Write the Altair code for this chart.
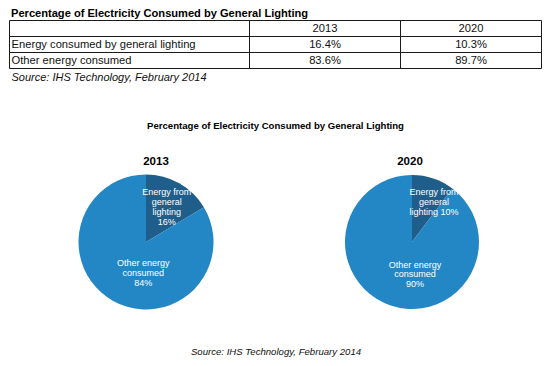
import altair as alt
import pandas as pd

# ---------------- data ----------------
title_text = "Percentage of Electricity Consumed by General Lighting"
source_text = "Source: IHS Technology, February 2014"
years = ["2013", "2020"]
row_labels = ["Energy consumed by general lighting", "Other energy consumed"]
share_2013 = [16.4, 83.6]
share_2020 = [10.3, 89.7]
slice_names = ["Energy from general lighting", "Other energy consumed"]
slice_labels_2013 = ["Energy from\ngeneral\nlighting\n16%", "Other energy\nconsumed\n84%"]
slice_labels_2020 = ["Energy from\ngeneral\nlighting 10%", "Other energy\nconsumed\n90%"]

# ---------------- layout (reference pixels, shifted by page margin) ----------------
W, H = 534, 350
OFF = -8
FONT = "Liberation Sans"
DARK = "#1f5e8a"
BLUE = "#2387c5"

tbl_x = [9.5, 249.5, 400.5, 541.5]      # vertical lines
tbl_y = [16.5, 32.5, 48.5, 64.5]        # horizontal lines
row_text_x = 11.5
pie_centers = [(146, 238), (412, 238)]
pie_radius = [67.5, 67]
year_pos = [(156, 157.5), (410, 157.5)]
# (x, first-line y, line height)
light_label_pos = [(166.7, 188.3, 10), (434, 187.7, 10)]
other_label_pos = [(143.3, 259.3, 9.6), (415, 260.7, 9.6)]


def P(v):
    return v + OFF


def xy():
    return dict(
        x=alt.X("x:Q", scale=None, axis=None),
        y=alt.Y("y:Q", scale=None, axis=None),
    )


# ---------------- table lines ----------------
rules = []
for yv in tbl_y:
    rules.append(dict(x=P(tbl_x[0]), x2=P(tbl_x[-1]), y=P(yv), y2=P(yv)))
for xv in tbl_x:
    rules.append(dict(x=P(xv), x2=P(xv), y=P(tbl_y[0]), y2=P(tbl_y[-1])))
rules_df = pd.DataFrame(rules)
rule_layer = alt.Chart(rules_df).mark_rule(color="#1a1a1a", strokeWidth=1).encode(
    x=alt.X("x:Q", scale=None, axis=None),
    x2="x2:Q",
    y=alt.Y("y:Q", scale=None, axis=None),
    y2="y2:Q",
)

# ---------------- table text ----------------
row_mid = [(tbl_y[i] + tbl_y[i + 1]) / 2 for i in range(3)]
col_mid = [(tbl_x[i] + tbl_x[i + 1]) / 2 for i in range(1, 3)]

left_cells = pd.DataFrame(
    [dict(x=P(row_text_x), y=P(row_mid[i + 1]), text=lab) for i, lab in enumerate(row_labels)]
)
center_cells = []
for j, yr in enumerate(years):
    center_cells.append(dict(x=P(col_mid[j]), y=P(row_mid[0]), text=yr))
for i in range(2):
    center_cells.append(dict(x=P(col_mid[0]), y=P(row_mid[i + 1]), text=f"{share_2013[i]:.1f}%"))
    center_cells.append(dict(x=P(col_mid[1]), y=P(row_mid[i + 1]), text=f"{share_2020[i]:.1f}%"))
center_cells = pd.DataFrame(center_cells)

left_layer = alt.Chart(left_cells).mark_text(
    align="left", baseline="middle", font=FONT, fontSize=11.2, color="#111", dy=0.5
).encode(text="text:N", **xy())
center_layer = alt.Chart(center_cells).mark_text(
    align="center", baseline="middle", font=FONT, fontSize=11.2, color="#111", dy=0.5
).encode(text="text:N", **xy())

# ---------------- titles / sources ----------------
top_title = alt.Chart(pd.DataFrame([dict(x=P(11), y=P(13), text=title_text)])).mark_text(
    align="left", baseline="alphabetic", font=FONT, fontSize=11.1, fontWeight="bold", color="#000"
).encode(text="text:N", **xy())
top_source = alt.Chart(pd.DataFrame([dict(x=P(11.5), y=P(77), text=source_text)])).mark_text(
    align="left", baseline="alphabetic", font=FONT, fontSize=11, fontStyle="italic", color="#111"
).encode(text="text:N", **xy())
pie_title = alt.Chart(pd.DataFrame([dict(x=P(275.5), y=P(125), text=title_text)])).mark_text(
    align="center", baseline="alphabetic", font=FONT, fontSize=9.6, fontWeight="bold", color="#000"
).encode(text="text:N", **xy())
bottom_source = alt.Chart(pd.DataFrame([dict(x=P(276), y=P(348), text=source_text)])).mark_text(
    align="center", baseline="middle", font=FONT, fontSize=9.6, fontStyle="italic", color="#111"
).encode(text="text:N", **xy())
year_df = pd.DataFrame([dict(x=P(p[0]), y=P(p[1]), text=yr) for p, yr in zip(year_pos, years)])
year_layer = alt.Chart(year_df).mark_text(
    align="center", baseline="middle", font=FONT, fontSize=11.5, fontWeight="bold", color="#000"
).encode(text="text:N", **xy())

# ---------------- pies ----------------
pie_layers = []
for k, (yr, shares) in enumerate(zip(years, [share_2013, share_2020])):
    df = pd.DataFrame(dict(part=slice_names, value=shares, idx=[0, 1]))
    cx, cy = pie_centers[k]
    pie_layers.append(
        alt.Chart(df).mark_arc(radius=pie_radius[k], stroke=None).encode(
            theta=alt.Theta("value:Q", stack=True),
            color=alt.Color("part:N", scale=alt.Scale(domain=slice_names, range=[DARK, BLUE]), legend=None),
            order=alt.Order("idx:Q"),
            x=alt.value(P(cx)),
            y=alt.value(P(cy)),
        )
    )

# slice labels: one datum per text line
label_rows = []
for k, labels in enumerate([slice_labels_2013, slice_labels_2020]):
    for (lx, ly, lh), lab in zip([light_label_pos[k], other_label_pos[k]], labels):
        for i, line in enumerate(lab.split("\n")):
            label_rows.append(dict(x=P(lx), y=P(ly + i * lh), text=line))
label_df = pd.DataFrame(label_rows)
label_layer = alt.Chart(label_df).mark_text(
    align="center", baseline="middle", font=FONT, fontSize=9, color="white"
).encode(text="text:N", **xy())

chart = alt.layer(
    *pie_layers,
    rule_layer,
    left_layer,
    center_layer,
    top_title,
    top_source,
    pie_title,
    bottom_source,
    year_layer,
    label_layer,
).resolve_scale(theta="independent", color="shared").properties(
    width=W,
    height=H,
    padding=0,
    background="white",
    autosize=alt.AutoSizeParams(type="fit", contains="padding"),
).configure_view(stroke=None)

chart.save("out.html", embed_options={"renderer": "svg", "actions": False})
